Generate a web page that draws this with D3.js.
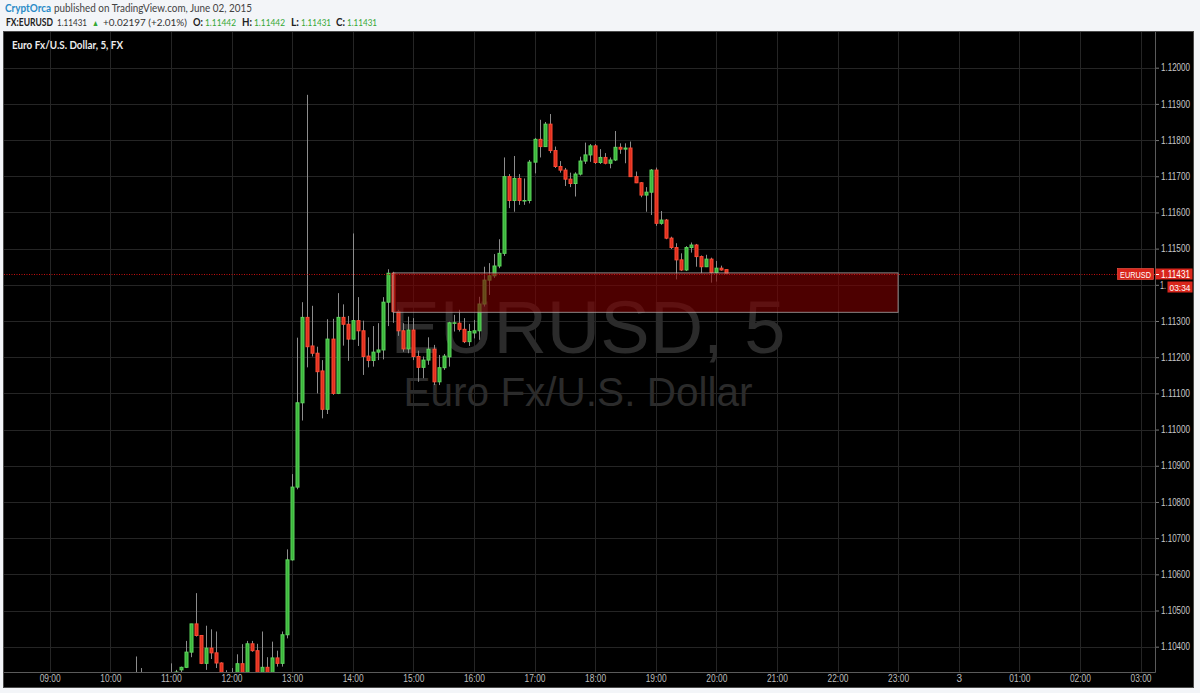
<!DOCTYPE html>
<html><head><meta charset="utf-8">
<script src="https://cdn.jsdelivr.net/npm/d3@7"></script>
<style>
body{margin:0;background:#f3f5f8;}
svg{display:block;}
</style></head><body>
<svg id="c" width="1200" height="693"></svg>
<script>
// ---------- data ----------
const candleTimes = ["10:25","10:30","11:00","11:05","11:10","11:15","11:20","11:25","11:30","11:35","11:40","11:45","11:50","11:55",
"12:00","12:05","12:10","12:15","12:20","12:25","12:30","12:35","12:40","12:45","12:50","12:55",
"13:00","13:05","13:10","13:15","13:20","13:25","13:30","13:35","13:40","13:45","13:50","13:55",
"14:00","14:05","14:10","14:15","14:20","14:25","14:30","14:35","14:40","14:45","14:50","14:55",
"15:00","15:05","15:10","15:15","15:20","15:25","15:30","15:35","15:40","15:45","15:50","15:55",
"16:00","16:05","16:10","16:15","16:20","16:25","16:30","16:35","16:40","16:45","16:50","16:55",
"17:00","17:05","17:10","17:15","17:20","17:25","17:30","17:35","17:40","17:45","17:50","17:55",
"18:00","18:05","18:10","18:15","18:20","18:25","18:30","18:35","18:40","18:45","18:50","18:55",
"19:00","19:05","19:10","19:15","19:20","19:25","19:30","19:35","19:40","19:45","19:50","19:55",
"20:00","20:05","20:10"];
const opens = [1.10320,1.10320,1.10320,1.10330,1.10336,1.10343,1.10385,1.10463,1.10431,1.10354,1.10396,1.10383,1.10355,1.10315,
1.10322,1.10315,1.10353,1.10315,1.10408,1.10389,1.10315,1.10343,1.10318,1.10369,1.10354,1.10433,
1.10640,1.10841,1.11074,1.11310,1.11231,1.11211,1.11162,1.11056,1.11250,1.11100,1.11310,1.11291,
1.11250,1.11301,1.11273,1.11203,1.11191,1.11214,1.11220,1.11352,1.11432,1.11326,1.11273,1.11223,
1.11275,1.11202,1.11172,1.11192,1.11222,1.11132,1.11171,1.11201,1.11295,1.11294,1.11277,1.11243,
1.11267,1.11273,1.11347,1.11413,1.11425,1.11452,1.11487,1.11699,1.11633,1.11694,1.11633,1.11633,
1.11739,1.11802,1.11782,1.11844,1.11771,1.11727,1.11717,1.11692,1.11680,1.11706,1.11742,1.11759,
1.11784,1.11738,1.11752,1.11736,1.11745,1.11780,1.11775,1.11778,1.11699,1.11682,1.11648,1.11656,
1.11717,1.11570,1.11579,1.11529,1.11503,1.11469,1.11441,1.11503,1.11510,1.11478,1.11450,1.11471,
1.11434,1.11446,1.11442];
const highs = [1.10373,1.10341,1.10354,1.10336,1.10345,1.10416,1.10463,1.10548,1.10432,1.10458,1.10448,1.10442,1.10357,1.10335,
1.10341,1.10379,1.10407,1.10416,1.10416,1.10408,1.10442,1.10371,1.10414,1.10389,1.10442,1.10669,
1.10877,1.11254,1.11352,1.11925,1.11342,1.11229,1.11192,1.11305,1.11306,1.11377,1.11346,1.11314,
1.11542,1.11366,1.11301,1.11255,1.11286,1.11294,1.11366,1.11443,1.11436,1.11331,1.11294,1.11312,
1.11308,1.11218,1.11202,1.11255,1.11234,1.11206,1.11209,1.11298,1.11317,1.11331,1.11308,1.11292,
1.11303,1.11367,1.11450,1.11460,1.11485,1.11526,1.11752,1.11706,1.11756,1.11706,1.11694,1.11745,
1.11806,1.11856,1.11850,1.11872,1.11782,1.11742,1.11723,1.11710,1.11711,1.11754,1.11793,1.11789,
1.11789,1.11775,1.11764,1.11752,1.11825,1.11791,1.11791,1.11796,1.11713,1.11684,1.11670,1.11720,
1.11724,1.11604,1.11582,1.11533,1.11515,1.11487,1.11507,1.11517,1.11513,1.11481,1.11483,1.11475,
1.11466,1.11453,1.11442];
const lows = [1.10300,1.10300,1.10300,1.10320,1.10330,1.10341,1.10371,1.10428,1.10352,1.10336,1.10366,1.10341,1.10300,1.10300,
1.10300,1.10300,1.10300,1.10300,1.10386,1.10300,1.10300,1.10300,1.10300,1.10345,1.10345,1.10423,
1.10638,1.10835,1.11025,1.11172,1.11202,1.11100,1.11031,1.11043,1.11096,1.11098,1.11232,1.11190,
1.11248,1.11231,1.11151,1.11172,1.11174,1.11192,1.11194,1.11286,1.11295,1.11259,1.11215,1.11211,
1.11192,1.11132,1.11142,1.11179,1.11123,1.11123,1.11165,1.11174,1.11271,1.11271,1.11239,1.11231,
1.11252,1.11248,1.11340,1.11372,1.11419,1.11446,1.11480,1.11612,1.11602,1.11621,1.11621,1.11625,
1.11708,1.11752,1.11781,1.11764,1.11723,1.11710,1.11673,1.11670,1.11644,1.11702,1.11734,1.11740,
1.11734,1.11734,1.11733,1.11722,1.11742,1.11762,1.11736,1.11698,1.11681,1.11642,1.11602,1.11593,
1.11563,1.11566,1.11526,1.11499,1.11415,1.11438,1.11438,1.11489,1.11450,1.11432,1.11449,1.11406,
1.11409,1.11439,1.11431];
const closes = [1.10320,1.10320,1.10320,1.10330,1.10343,1.10385,1.10463,1.10431,1.10354,1.10396,1.10383,1.10355,1.10315,1.10322,
1.10322,1.10353,1.10315,1.10408,1.10389,1.10315,1.10343,1.10318,1.10369,1.10354,1.10433,1.10640,
1.10841,1.11074,1.11310,1.11229,1.11211,1.11160,1.11056,1.11250,1.11100,1.11310,1.11291,1.11250,
1.11301,1.11273,1.11202,1.11191,1.11214,1.11220,1.11352,1.11432,1.11326,1.11273,1.11223,1.11275,
1.11202,1.11172,1.11192,1.11222,1.11132,1.11171,1.11203,1.11295,1.11295,1.11277,1.11243,1.11271,
1.11273,1.11347,1.11413,1.11425,1.11452,1.11487,1.11699,1.11633,1.11694,1.11633,1.11633,1.11739,
1.11802,1.11782,1.11844,1.11771,1.11727,1.11717,1.11692,1.11680,1.11706,1.11742,1.11759,1.11784,
1.11738,1.11752,1.11736,1.11745,1.11780,1.11775,1.11778,1.11699,1.11682,1.11648,1.11656,1.11717,
1.11570,1.11579,1.11529,1.11503,1.11469,1.11441,1.11503,1.11510,1.11478,1.11450,1.11471,1.11434,
1.11446,1.11441,1.11431];

const priceTicks = [1.104,1.105,1.106,1.107,1.108,1.109,1.110,1.111,1.112,1.113,1.114,1.115,1.116,1.117,1.118,1.119,1.120];
const timeTickLabels = ["09:00","10:00","11:00","12:00","13:00","14:00","15:00","16:00","17:00","18:00","19:00","20:00","21:00","22:00","23:00","3","01:00","02:00","03:00"];
const lastPrice = 1.11431;
const zoneStart = "2015-06-02 14:40", zoneEnd = "2015-06-02 23:00";
const zoneTop = 1.11433, zoneBottom = 1.11324;

// ---------- layout ----------
const svg = d3.select("#c");
const P = {l:4, r:1155, t:32, b:672, right:1193, bottom:687};
const parse = d3.timeParse("%Y-%m-%d %H:%M");
const tStart = parse("2015-06-02 09:00"), tEnd = parse("2015-06-03 03:00");
const x = d3.scaleTime().domain([tStart, tEnd]).range([49.7, 1140.5]);
const y = d3.scaleLinear().domain([1.104, 1.120]).range([646.7, 67.7]);
const timeTicks = d3.timeHour.range(tStart, d3.timeHour.offset(tEnd, 1));

const data = candleTimes.map((t,i)=>({t:parse("2015-06-02 "+t), o:opens[i], h:highs[i], l:lows[i], c:closes[i]}));

// header
const hf = "Lato, 'Open Sans', sans-serif";
const green = "#35a835";
const hdr = svg.append("g").attr("font-family",hf).attr("font-size",10.5);
const l1 = hdr.append("text").attr("y",11.5);
l1.append("tspan").attr("x",5).attr("fill","#2a8bc7").attr("font-weight","700")
  .attr("textLength",46).attr("lengthAdjust","spacingAndGlyphs").text("CryptOrca");
l1.append("tspan").attr("x",54).attr("fill","#444")
  .attr("textLength",198).attr("lengthAdjust","spacingAndGlyphs").text("published on TradingView.com, June 02, 2015");
const seg = [
  {x:6, w:47, t:"FX:EURUSD", b:true, c:"#222"},
  {x:57, w:30, t:"1.11431", c:"#333"},
  {x:92, w:7, t:"▲", c:green, fs:7.5},
  {x:103, w:84, t:"+0.02197 (+2.01%)", c:"#333"},
  {x:193, w:10, t:"O:", b:true, c:"#222"}, {x:205, w:31, t:"1.11442", c:green},
  {x:242, w:10, t:"H:", b:true, c:"#222"}, {x:254, w:31, t:"1.11442", c:green},
  {x:291, w:8, t:"L:", b:true, c:"#222"}, {x:301, w:30, t:"1.11431", c:green},
  {x:336, w:9, t:"C:", b:true, c:"#222"}, {x:347, w:30, t:"1.11431", c:green}
];
const l2 = hdr.append("text").attr("transform","translate(0,26) scale(1,1.15)").attr("y",0);
l2.selectAll("tspan").data(seg).join("tspan")
  .attr("x",d=>d.x).attr("fill",d=>d.c).attr("font-weight",d=>d.b?"700":"400")
  .attr("font-size",d=>d.fs||9)
  .attr("textLength",d=>d.w).attr("lengthAdjust","spacingAndGlyphs").text(d=>d.t);

// chart panel
svg.append("rect").attr("x",P.l-0.5).attr("y",P.t-0.5).attr("width",P.right-P.l+1).attr("height",P.bottom-P.t+1)
  .attr("fill","#000").attr("stroke","#4a4a4a");

const defs = svg.append("defs");
defs.append("clipPath").attr("id","plot").append("rect").attr("x",P.l).attr("y",P.t).attr("width",P.r-P.l).attr("height",P.b-P.t);

const plot = svg.append("g").attr("clip-path","url(#plot)");

// grid
plot.append("g").selectAll("line").data(timeTicks).join("line")
  .attr("x1",d=>Math.round(x(d))+0.5).attr("x2",d=>Math.round(x(d))+0.5).attr("y1",P.t).attr("y2",P.b)
  .attr("stroke","#252525");
plot.append("g").selectAll("line").data(priceTicks).join("line")
  .attr("y1",d=>Math.round(y(d))+0.5).attr("y2",d=>Math.round(y(d))+0.5).attr("x1",P.l).attr("x2",P.r)
  .attr("stroke","#252525");

// watermark
const wm = plot.append("g").attr("font-family","'Liberation Sans', Arial, sans-serif").attr("fill","#2b2b2b").attr("text-anchor","middle");
wm.append("text").attr("x",588).attr("y",353).attr("font-size",74).text("EURUSD, 5");
wm.append("text").attr("x",578).attr("y",406).attr("font-size",40.5).text("Euro Fx/U.S. Dollar");

// candles
const cg = plot.append("g");
const up = {fill:"#3bb53b", stroke:"#5cd65c"}, dn = {fill:"#e0301e", stroke:"#ff4b35"};
const cs = cg.selectAll("g").data(data).join("g");
cs.append("line")
  .attr("x1",d=>Math.round(x(d.t))+0.5).attr("x2",d=>Math.round(x(d.t))+0.5)
  .attr("y1",d=>y(d.h)).attr("y2",d=>y(d.l)).attr("stroke","#8c8c8c");
cs.append("rect")
  .attr("x",d=>Math.round(x(d.t))-1)
  .attr("width",3)
  .attr("y",d=>y(Math.max(d.o,d.c)))
  .attr("height",d=>Math.max(0.5, Math.abs(y(d.o)-y(d.c))))
  .attr("fill",d=>d.c>=d.o?up.fill:dn.fill)
  .attr("stroke",d=>d.c>=d.o?up.stroke:dn.stroke)
  .attr("stroke-width",1);

// zone rectangle
plot.append("rect")
  .attr("x",x(parse(zoneStart))).attr("width",x(parse(zoneEnd))-x(parse(zoneStart)))
  .attr("y",y(zoneTop)).attr("height",y(zoneBottom)-y(zoneTop))
  .attr("fill","#800000").attr("fill-opacity",0.6)
  .attr("stroke","#b0b0b0").attr("stroke-opacity",0.75);

// last price line
plot.append("line").attr("x1",P.l).attr("x2",P.r).attr("y1",Math.round(y(lastPrice))+0.5).attr("y2",Math.round(y(lastPrice))+0.5)
  .attr("stroke","#c21010").attr("stroke-dasharray","1,1.5");

// axes
const axFont = "'Liberation Sans', Arial, sans-serif";
const hidden = 1.114; // label covered by the countdown box
const yAxis = d3.axisRight(y).tickValues(priceTicks).tickFormat(d=>Math.abs(d-hidden)<1e-9?"":d3.format(".5f")(d)).tickSize(4).tickPadding(2);
const gy = svg.append("g").attr("transform",`translate(${P.r},0)`).call(yAxis);
gy.select(".domain").remove();
gy.selectAll(".tick line").attr("stroke","#777");
gy.selectAll(".tick text").attr("fill","#c8c8c8").attr("font-family",axFont).attr("font-size",10)
  .filter(function(){return this.textContent!=="";})
  .attr("textLength",29).attr("lengthAdjust","spacingAndGlyphs");

const xAxis = d3.axisBottom(x).tickValues(timeTicks).tickFormat((d,i)=>timeTickLabels[i]).tickSize(0).tickPadding(3);
const gx = svg.append("g").attr("transform",`translate(0,${P.b})`).call(xAxis);
gx.select(".domain").remove();
gx.selectAll(".tick text").attr("fill","#bdbdbd").attr("font-family",axFont).attr("font-size",10)
  .filter(function(){return this.textContent.length>2;})
  .attr("textLength",21).attr("lengthAdjust","spacingAndGlyphs");

// axis borders
svg.append("line").attr("x1",P.l).attr("x2",P.r+0.5).attr("y1",P.b+0.5).attr("y2",P.b+0.5).attr("stroke","#5a5a5a");
svg.append("line").attr("x1",P.r+0.5).attr("x2",P.r+0.5).attr("y1",P.t).attr("y2",P.b+0.5).attr("stroke","#5a5a5a");

// chart title
svg.append("text").attr("x",12).attr("y",48.5).attr("fill","#ececec").attr("font-weight","700")
  .attr("font-family",hf).attr("font-size",10.5)
  .attr("textLength",111).attr("lengthAdjust","spacingAndGlyphs").text("Euro Fx/U.S. Dollar, 5, FX");

// price labels
const yl = Math.round(y(lastPrice));
const lab = svg.append("g").attr("font-family",axFont).attr("font-size",10);
lab.append("rect").attr("x",1117.5).attr("y",yl-5.5).attr("width",36).attr("height",11).attr("fill","#d9261c").attr("stroke","#ff5a4a").attr("stroke-width",0.6);
lab.append("text").attr("x",1135.5).attr("y",yl+3.5).attr("text-anchor","middle").attr("fill","#fff").attr("font-size",9)
  .attr("textLength",31).attr("lengthAdjust","spacingAndGlyphs").text("EURUSD");
lab.append("rect").attr("x",1155.5).attr("y",yl-5.5).attr("width",37).attr("height",11).attr("fill","#d9261c");
lab.append("line").attr("x1",1156).attr("x2",1159).attr("y1",yl+0.5).attr("y2",yl+0.5).attr("stroke","#fff");
lab.append("text").attr("x",1161).attr("y",yl+4).attr("fill","#fff")
  .attr("textLength",29).attr("lengthAdjust","spacingAndGlyphs").text(d3.format(".5f")(lastPrice));
lab.append("text").attr("x",1160).attr("y",Math.round(y(hidden))+4).attr("fill","#c8c8c8")
  .attr("textLength",6).attr("lengthAdjust","spacingAndGlyphs").text("1.");
lab.append("rect").attr("x",1167.5).attr("y",yl+7.5).attr("width",25).attr("height",11).attr("fill","#d9261c");
lab.append("text").attr("x",1180).attr("y",yl+16.5).attr("text-anchor","middle").attr("fill","#fff").attr("font-size",9.5)
  .attr("textLength",21).attr("lengthAdjust","spacingAndGlyphs").text("03:34");
</script>
</body></html>
